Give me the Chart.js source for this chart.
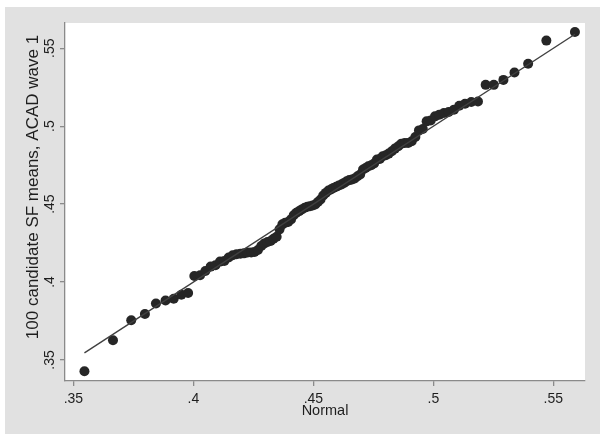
<!DOCTYPE html>
<html>
<head>
<meta charset="utf-8">
<script src="https://cdn.jsdelivr.net/npm/chart.js@4.4.1/dist/chart.umd.min.js"></script>
<style>
    body { margin: 0; background: #ffffff; }
    #wrap { width: 607px; height: 447px; }
</style>
</head>
<body>
<div id="wrap"><canvas id="qqChart" width="607" height="447"></canvas></div>
<script>
// quantiles de la loi normale (axe x)
const normalQuantiles = [
    0.3546, 0.3665, 0.3741, 0.3798, 0.3844, 0.3884, 0.3918, 0.3950, 0.3978, 0.4004,
    0.4028, 0.4050, 0.4072, 0.4092, 0.4111, 0.4129, 0.4147, 0.4164, 0.4180, 0.4196,
    0.4211, 0.4226, 0.4241, 0.4255, 0.4269, 0.4283, 0.4296, 0.4309, 0.4322, 0.4334,
    0.4347, 0.4359, 0.4371, 0.4383, 0.4395, 0.4407, 0.4418, 0.4429, 0.4441, 0.4452,
    0.4464, 0.4475, 0.4486, 0.4497, 0.4508, 0.4519, 0.4530, 0.4541, 0.4552, 0.4563,
    0.4573, 0.4584, 0.4595, 0.4606, 0.4617, 0.4628, 0.4639, 0.4650, 0.4661, 0.4672,
    0.4684, 0.4695, 0.4707, 0.4718, 0.4729, 0.4741, 0.4753, 0.4765, 0.4777, 0.4789,
    0.4802, 0.4814, 0.4827, 0.4840, 0.4854, 0.4867, 0.4881, 0.4895, 0.4910, 0.4925,
    0.4940, 0.4956, 0.4972, 0.4989, 0.5007, 0.5025, 0.5044, 0.5064, 0.5086, 0.5108,
    0.5132, 0.5158, 0.5186, 0.5218, 0.5252, 0.5292, 0.5338, 0.5395, 0.5471, 0.5590
];

// moyennes SF des 100 candidats (axe y)
const sfMeans = [
    0.3428, 0.3626, 0.3755, 0.3795, 0.3862, 0.3881, 0.3893, 0.3918, 0.3930, 0.4039,
    0.4044, 0.4071, 0.4099, 0.4108, 0.4131, 0.4135, 0.4157, 0.4172, 0.4178, 0.4182,
    0.4184, 0.4189, 0.4189, 0.4193, 0.4206, 0.4231, 0.4248, 0.4257, 0.4263, 0.4278,
    0.4291, 0.4338, 0.4370, 0.4381, 0.4385, 0.4402, 0.4428, 0.4445, 0.4455, 0.4466,
    0.4477, 0.4483, 0.4487, 0.4491, 0.4498, 0.4513, 0.4530, 0.4555, 0.4572, 0.4587,
    0.4594, 0.4604, 0.4611, 0.4619, 0.4626, 0.4636, 0.4647, 0.4654, 0.4658, 0.4664,
    0.4679, 0.4690, 0.4722, 0.4732, 0.4743, 0.4749, 0.4760, 0.4786, 0.4790, 0.4807,
    0.4813, 0.4824, 0.4839, 0.4856, 0.4871, 0.4888, 0.4892, 0.4892, 0.4903, 0.4931,
    0.4973, 0.4982, 0.5031, 0.5037, 0.5063, 0.5074, 0.5084, 0.5091, 0.5106, 0.5131,
    0.5144, 0.5155, 0.5158, 0.5265, 0.5265, 0.5297, 0.5344, 0.5400, 0.5549, 0.5604
];

const xTicks = [0.35, 0.4, 0.45, 0.5, 0.55];
const yTicks = [0.35, 0.4, 0.45, 0.5, 0.55];

const xTitle = 'Normal';
const yTitle = '100 candidate SF means, ACAD wave 1';

const FONT = '"Liberation Sans", Arial, Helvetica, sans-serif';
const AXIS_GREY = '#8a8a8a';
const TEXT_COLOR = '#1e1e1e';

// format Stata : .35 au lieu de 0.35
function stataLabel(v) {
    return String(v).replace(/^0/, '');
}

function buildPoints(xs, ys) {
    let pts = [];
    for (let i = 0; i < xs.length; i++) {
        pts.push({x: xs[i], y: ys[i]});
    }
    return pts;
}

// fond gris autour + zone de tracé blanche
const backgroundPlugin = {
    id: 'stataBackground',
    beforeDraw(chart) {
        const ctx = chart.ctx;
        const area = chart.chartArea;
        ctx.save();
        ctx.fillStyle = '#ffffff';
        ctx.fillRect(0, 0, chart.width, chart.height);
        ctx.fillStyle = '#e1e1e1';
        ctx.fillRect(5, 7, 595, 427);
        ctx.fillStyle = '#ffffff';
        ctx.fillRect(area.left, area.top, area.right - area.left, area.bottom - area.top);
        ctx.restore();
    }
};

// titre de l'axe y, un peu plus haut que le centre de la zone (comme dans Stata)
const yTitlePlugin = {
    id: 'yTitle',
    afterDraw(chart) {
        const ctx = chart.ctx;
        ctx.save();
        ctx.translate(33, 187);
        ctx.rotate(-Math.PI / 2);
        ctx.font = '17px ' + FONT;
        ctx.fillStyle = TEXT_COLOR;
        ctx.textAlign = 'center';
        ctx.textBaseline = 'middle';
        ctx.fillText(yTitle, 0, 0);
        ctx.restore();
    }
};

const n = normalQuantiles.length;
const refLine = [
    {x: normalQuantiles[0], y: normalQuantiles[0]},
    {x: normalQuantiles[n - 1], y: normalQuantiles[n - 1]}
];

let ctx = document.getElementById('qqChart').getContext('2d');
new Chart(ctx, {
    type: 'scatter',
    data: {
        datasets: [
            {
                label: 'reference',
                data: refLine,
                showLine: true,
                borderColor: '#404040',
                borderWidth: 1.4,
                pointRadius: 0,
                order: 0
            },
            {
                label: 'SF means',
                data: buildPoints(normalQuantiles, sfMeans),
                backgroundColor: '#262626',
                borderColor: '#262626',
                borderWidth: 0,
                pointRadius: 5,
                order: 1
            }
        ]
    },
    options: {
        responsive: false,
        devicePixelRatio: 1,
        animation: false,
        layout: { padding: { left: 0, top: 23, right: 22, bottom: 0 } },
        plugins: {
            legend: { display: false },
            tooltip: { enabled: false }
        },
        scales: {
            x: {
                type: 'linear',
                min: 0.3465,
                max: 0.5632,
                afterFit(scale) { scale.height = 66; },
                afterBuildTicks(scale) { scale.ticks = xTicks.map(v => ({value: v})); },
                border: { display: true, color: AXIS_GREY, width: 1.3 },
                grid: { drawOnChartArea: false, drawTicks: true, tickLength: 5, color: AXIS_GREY, lineWidth: 1.3 },
                ticks: {
                    callback: v => stataLabel(v),
                    color: TEXT_COLOR,
                    padding: 5,
                    maxRotation: 0,
                    autoSkip: false,
                    font: { family: FONT, size: 14 }
                },
                title: {
                    display: true,
                    text: xTitle,
                    color: TEXT_COLOR,
                    padding: { top: 0, bottom: 27 },
                    font: { family: FONT, size: 14.5 }
                }
            },
            y: {
                type: 'linear',
                min: 0.3365,
                max: 0.5662,
                afterFit(scale) { scale.width = 65; },
                afterBuildTicks(scale) { scale.ticks = yTicks.map(v => ({value: v})); },
                border: { display: true, color: AXIS_GREY, width: 1.3 },
                grid: { drawOnChartArea: false, drawTicks: true, tickLength: 5, color: AXIS_GREY, lineWidth: 1.3 },
                ticks: {
                    callback: v => stataLabel(v),
                    color: TEXT_COLOR,
                    padding: 0,
                    minRotation: 90,
                    maxRotation: 90,
                    crossAlign: 'center',
                    autoSkip: false,
                    font: { family: FONT, size: 14 }
                },
                title: { display: false }
            }
        }
    },
    plugins: [backgroundPlugin, yTitlePlugin]
});
</script>
</body>
</html>
